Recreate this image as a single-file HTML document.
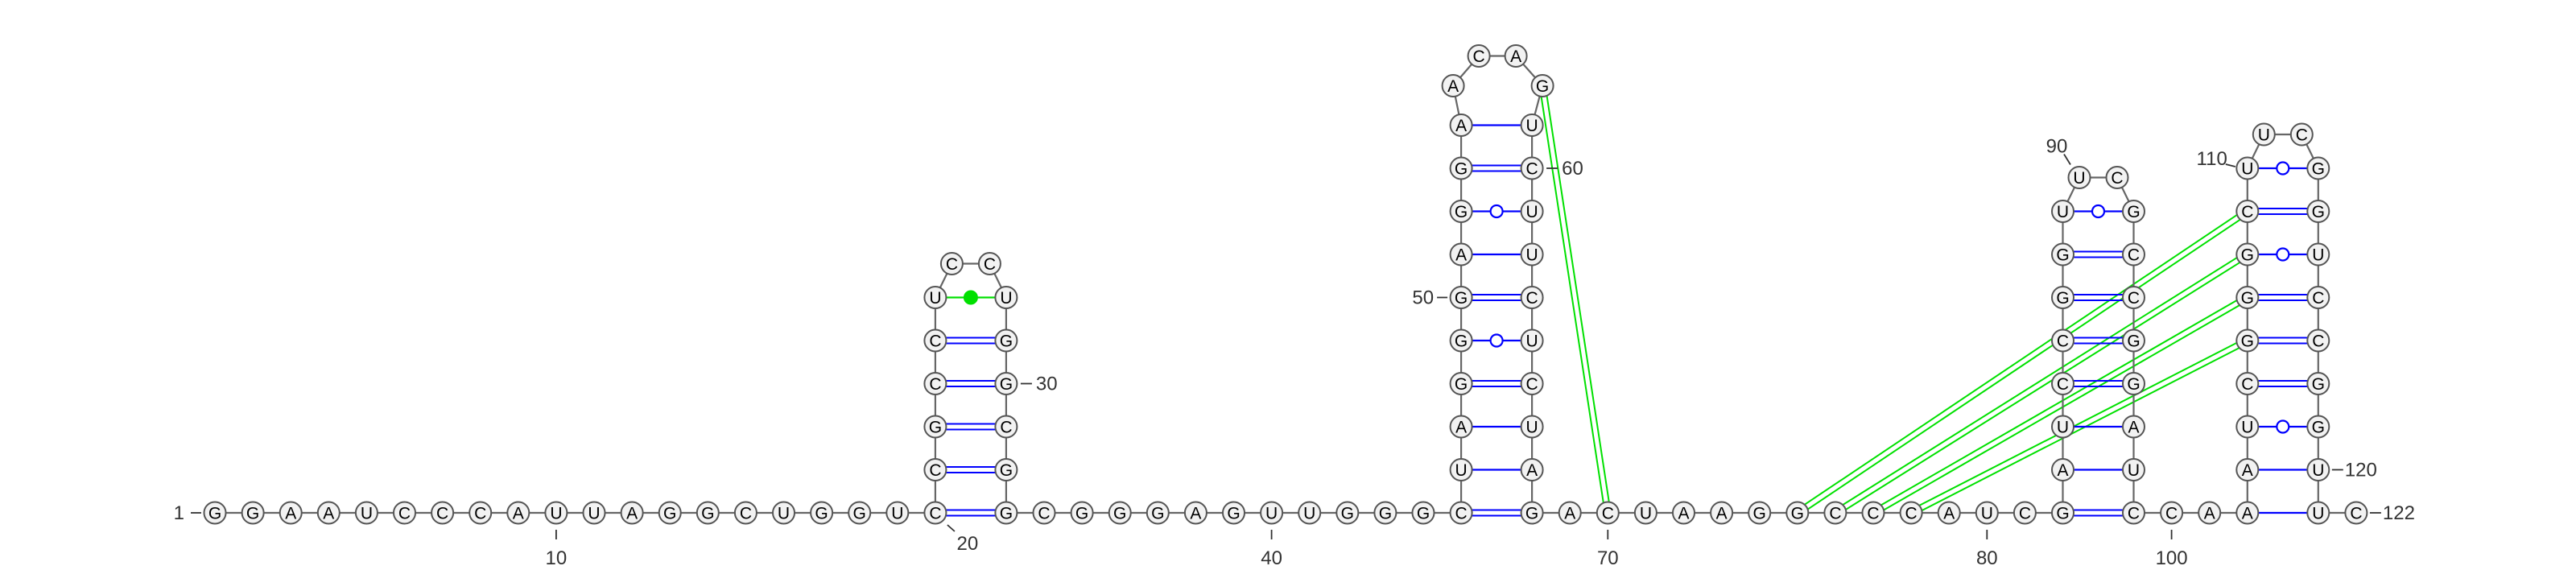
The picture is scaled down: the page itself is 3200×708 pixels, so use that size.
<!DOCTYPE html>
<html><head><meta charset="utf-8"><style>
html,body{margin:0;padding:0;background:#fff;}
svg{display:block;}
</style></head><body>
<svg id="rna" width="3200" height="708" viewBox="0 0 3200 708" xmlns="http://www.w3.org/2000/svg">
<g id="pk"></g>
<g id="bb"></g>
<g id="bp"></g>
<g id="nt"></g>
<g id="lb"></g>
</svg>
<script>
// ---- data ----
const sequence = "GGAAUCCCAUUAGGCUGGUC" + "CGCCUCC" + "UGGCGG" + "CGGGAGUUGGG" + "C" + "UAGGGAGGA" + "ACAG" + "UCUUCUCUAG" + "ACUAAGGCCCAUCG" + "AUCCGGUUC" + "GCCGGAUC" + "CAA" + "AUCGGGCU" + "UC" + "GGUCCGGUU" + "C";
const stemStarts = [20, 45, 82, 102];
const stemEnds = [33, 68, 99, 121];
const stemRows = [6, 10, 8, 9];
const pseudoknotI = [58, 75, 76, 77, 78];
const pseudoknotJ = [70, 109, 108, 107, 106];
const labelPositions = [1, 10, 20, 30, 40, 50, 60, 70, 80, 90, 100, 110, 120, 122];

// ---- layout ----
const NS = "http://www.w3.org/2000/svg";
const X0 = 267, DX = 47.1, WS = 88, Y0 = 637, DY = 53.5, R = 13.5;
const pos = {};
const pairs = [];
function mk(tag, attrs, parent) {
  const e = document.createElementNS(NS, tag);
  for (const k in attrs) e.setAttribute(k, attrs[k]);
  parent.appendChild(e);
  return e;
}
// baseline walk
let x = X0, i = 1;
const stemAt = {};
stemStarts.forEach((s, k) => stemAt[s] = k);
while (i <= sequence.length) {
  pos[i] = [x, Y0];
  if (stemAt[i] !== undefined) {
    const k = stemAt[i];
    const s = stemStarts[k], e = stemEnds[k], n = stemRows[k];
    const xl = x, xr = x + WS;
    for (let r = 0; r < n; r++) {
      pos[s + r] = [xl, Y0 - r * DY];
      pos[e - r] = [xr, Y0 - r * DY];
      pairs.push([s + r, e - r]);
    }
    const top = Y0 - (n - 1) * DY;
    const cx = (xl + xr) / 2;
    const loop = [];
    for (let q = s + n; q <= e - n; q++) loop.push(q);
    if (loop.length === 2) {
      pos[loop[0]] = [cx - 23.5, top - 42];
      pos[loop[1]] = [cx + 23.5, top - 42];
    } else if (loop.length === 4) {
      pos[loop[0]] = [cx - 54, top - 49];
      pos[loop[1]] = [cx - 22, top - 86];
      pos[loop[2]] = [cx + 24, top - 86];
      pos[loop[3]] = [cx + 57, top - 49];
    }
    x = xr + DX;
    i = e + 1;
  } else {
    x += DX;
    i++;
  }
}
const gPk = document.getElementById('pk'), gBb = document.getElementById('bb'),
      gBp = document.getElementById('bp'), gNt = document.getElementById('nt'),
      gLb = document.getElementById('lb');

function doubleLine(a, b, color, parent, name) {
  const dx = b[0] - a[0], dy = b[1] - a[1], L = Math.hypot(dx, dy);
  const nx = -dy / L * 3.5, ny = dx / L * 3.5;
  const g = mk('g', {}, parent);
  
  
  [1, -1].forEach(sg => mk('line', {x1: a[0] + nx * sg, y1: a[1] + ny * sg, x2: b[0] + nx * sg, y2: b[1] + ny * sg, stroke: color, 'stroke-width': 2}, g));
}
// pseudoknots
pseudoknotI.forEach((a, k) => {
  doubleLine(pos[a], pos[pseudoknotJ[k]], '#00e000', gPk, 'pseudoknot-pair-' + a + '-' + pseudoknotJ[k]);
});
// backbone
for (let q = 1; q < sequence.length; q++) {
  const a = pos[q], b = pos[q + 1];
  const l = mk('line', {x1: a[0], y1: a[1], x2: b[0], y2: b[1], stroke: '#666', 'stroke-width': 2.2}, gBb);
  
  
}
// base pairs
pairs.forEach(([a, b]) => {
  const pa = pos[a], pb = pos[b];
  const t = [sequence[a - 1], sequence[b - 1]].sort().join('');
  const name = 'base-pair-' + a + '-' + b;
  if (t === 'CG') {
    doubleLine(pa, pb, '#0000ff', gBp, name);
  } else if (t === 'AU') {
    const l = mk('line', {x1: pa[0], y1: pa[1], x2: pb[0], y2: pb[1], stroke: '#0000ff', 'stroke-width': 2.2}, gBp);
    
    
  } else {
    const g = mk('g', {}, gBp);
    
    
    const col = t === 'GU' ? '#0000ff' : '#00e000';
    mk('line', {x1: pa[0], y1: pa[1], x2: pb[0], y2: pb[1], stroke: col, 'stroke-width': 2.2}, g);
    const mx = (pa[0] + pb[0]) / 2, my = (pa[1] + pb[1]) / 2;
    if (t === 'GU') mk('circle', {cx: mx, cy: my, r: 7.5, fill: '#fff', stroke: col, 'stroke-width': 2.2}, g);
    else mk('circle', {cx: mx, cy: my, r: 9, fill: col}, g);
  }
});
// nucleotides
for (let q = 1; q <= sequence.length; q++) {
  const p = pos[q];
  const g = mk('g', {}, gNt);
  
  
  mk('circle', {cx: p[0], cy: p[1], r: R, fill: '#f2f2f2', stroke: '#555', 'stroke-width': 2}, g);
  const t = mk('text', {x: p[0], y: p[1] + 7.5, 'text-anchor': 'middle', 'font-family': 'Liberation Sans, sans-serif', 'font-size': 21, fill: '#000'}, g);
  t.textContent = sequence[q - 1];
}
// labels
const labelStyle = {'font-family': 'Liberation Sans, sans-serif', 'font-size': 24, fill: '#333'};
function label(n, tx, ty, anchor, l1, l2) {
  const g = mk('g', {}, gLb);
  
  
  mk('line', {x1: l1[0], y1: l1[1], x2: l2[0], y2: l2[1], stroke: '#333', 'stroke-width': 1.8}, g);
  const t = mk('text', Object.assign({x: tx, y: ty, 'text-anchor': anchor}, labelStyle), g);
  t.textContent = String(n);
}
labelPositions.forEach(n => {
  const [px, py] = pos[n];
  if (n === 1) label(n, px - 38, py + 8, 'end', [px - 30, py], [px - 17, py]);
  else if (n === 20) label(n, px + 40, py + 46, 'middle', [px + 15, py + 15], [px + 24, py + 23]);
  else if (n === 30 || n === 60) label(n, px + 37, py + 8, 'start', [px + 18, py], [px + 32, py]);
  else if (n === 50) label(n, px - 34, py + 8, 'end', [px - 30, py], [px - 17, py]);
  else if (n === 90) label(n, px - 28, py - 31, 'middle', [px - 19, py - 29], [px - 11, py - 16]);
  else if (n === 110) label(n, px - 25, py - 4, 'end', [px - 27, py - 5], [px - 15, py - 2]);
  else if (n === 120 || n === 122) label(n, px + 33, py + 8, 'start', [px + 17, py], [px + 31, py]);
  else label(n, px, py + 64, 'middle', [px, py + 21], [px, py + 33]);
});
</script>
</body></html>
